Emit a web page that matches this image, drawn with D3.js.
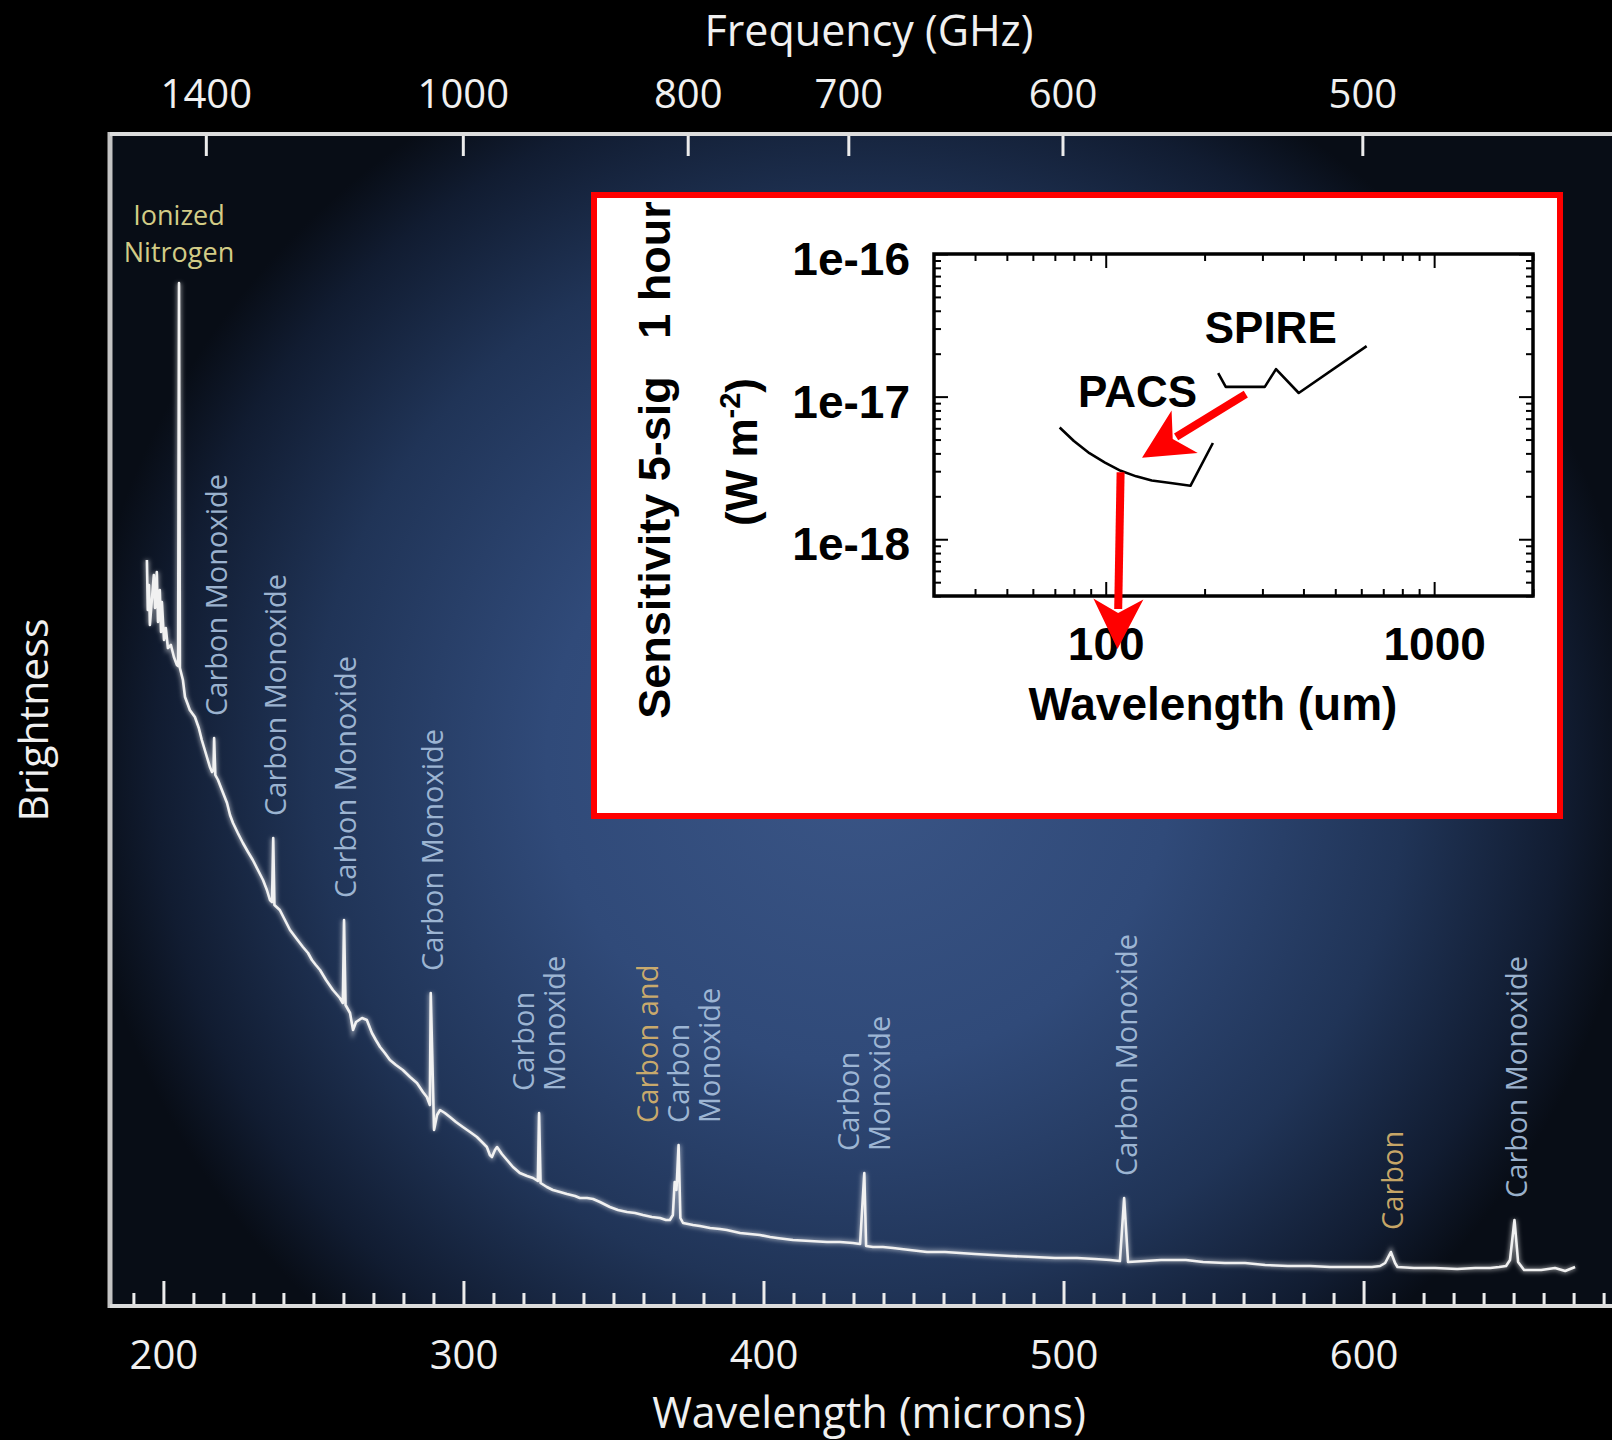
<!DOCTYPE html>
<html>
<head>
<meta charset="utf-8">
<script src="https://cdn.jsdelivr.net/npm/d3@7"></script>
<style>
  html, body { margin: 0; padding: 0; background: #000; }
  svg { display: block; }
</style>
</head>
<body>
<svg id="chart" width="1612" height="1440"></svg>
<script>
// ---- Far-infrared spectrum: wavelength (microns) and brightness (arbitrary units) ----
const wavelength = [
  194.5, 194.8, 195.2, 195.5, 196.2, 196.8, 197.2, 197.8, 198.2, 198.8, 199.2, 199.5, 200.2, 200.8, 201.5,
  202.5, 203.5, 204.5, 204.9, 205.2, 205.5, 206.5, 207.2, 208.2, 208.8, 210.5, 211.8, 212.8, 213.8, 214.5,
  215.5, 216.2, 216.7, 216.9, 217.3, 218.2, 219.5, 221.2, 222.2, 223.2, 224.8, 226.5, 228.2, 229.8, 231.5,
  233.2, 234.5, 235.5, 236.2, 236.6, 237.0, 238.8, 240.5, 242.2, 244.2, 246.5, 248.2, 249.5, 250.8, 252.2,
  254.2, 256.5, 258.8, 259.8, 260.2, 260.7, 262.2, 263.2, 264.2, 266.2, 267.8, 269.5, 270.8, 272.2, 273.8,
  275.5, 277.5, 279.8, 282.2, 284.5, 286.5, 287.8, 288.8, 289.1, 290.2, 291.2, 292.2, 293.8, 295.5, 297.5,
  299.8, 302.2, 304.5, 306.5, 307.8, 308.8, 309.5, 310.5, 311.2, 312.8, 314.5, 316.5, 318.8, 321.2, 323.2,
  324.8, 325.2, 325.7, 327.8, 329.8, 332.2, 334.5, 337.2, 338.8, 341.2, 343.2, 345.5, 348.8, 351.5, 354.5,
  357.2, 359.8, 362.8, 365.5, 367.5, 368.8, 369.8, 370.4, 371.0, 371.7, 372.3, 373.2, 376.5, 378.8, 382.2,
  385.5, 387.8, 392.2, 395.5, 398.8, 402.2, 404.5, 409.8, 415.5, 421.2, 425.5, 429.8, 432.2, 433.6, 434.2,
  436.5, 439.8, 443.2, 448.8, 454.5, 460.5, 465.5, 470.5, 476.2, 482.2, 490.2, 497.2, 504.5, 510.5, 515.5,
  518.8, 520.2, 521.5, 527.2, 532.5, 537.2, 540.8, 546.5, 553.8, 560.5, 567.2, 574.8, 582.2, 588.8, 596.2,
  602.8, 605.5, 607.2, 609.1, 610.5, 611.3, 616.8, 623.8, 631.2, 637.2, 642.2, 645.2, 647.5, 648.8, 650.3,
  651.5, 653.5, 659.2, 663.8, 667.2, 670.5
];
const brightness = [
  74.6, 69.6, 72.1, 68.1, 70.8, 73.1, 69.8, 73.4, 68.4, 71.6, 67.4, 70.4, 66.6, 67.8, 65.8,
  66.1, 64.9, 64.1, 64.0, 102.3, 63.8, 62.6, 60.9, 60.1, 59.6, 58.9, 57.8, 56.6, 55.6, 54.9,
  53.9, 53.4, 53.6, 56.8, 53.1, 52.6, 51.6, 50.3, 49.1, 48.3, 47.3, 46.3, 45.4, 44.6, 43.6,
  42.6, 41.6, 40.6, 40.4, 46.8, 40.1, 39.6, 38.6, 37.6, 36.8, 35.9, 35.3, 34.6, 34.1, 33.6,
  32.6, 31.6, 30.8, 30.3, 38.6, 30.1, 29.3, 27.6, 28.4, 28.8, 28.6, 27.3, 26.6, 25.9, 25.3,
  24.6, 24.1, 23.6, 22.9, 22.3, 21.4, 20.9, 20.1, 31.3, 17.6, 19.1, 19.6, 19.3, 18.9, 18.4,
  17.9, 17.4, 16.9, 16.3, 15.9, 15.1, 14.9, 15.6, 15.9, 15.2, 14.6, 13.9, 13.3, 13.0, 12.8,
  12.5, 19.3, 12.3, 11.9, 11.6, 11.4, 11.2, 11.0, 10.8, 10.8, 10.7, 10.4, 9.9, 9.6, 9.4,
  9.3, 9.1, 8.9, 8.8, 8.6, 8.6, 9.1, 12.4, 11.6, 16.1, 8.8, 8.3, 8.1, 8.0, 7.8,
  7.7, 7.6, 7.3, 7.2, 7.1, 6.9, 6.8, 6.6, 6.5, 6.4, 6.4, 6.3, 6.2, 13.3, 6.0,
  5.9, 5.9, 5.8, 5.6, 5.4, 5.4, 5.3, 5.2, 5.1, 5.0, 4.9, 4.8, 4.8, 4.7, 4.6,
  4.5, 10.8, 4.4, 4.5, 4.6, 4.6, 4.6, 4.4, 4.3, 4.3, 4.1, 4.0, 4.0, 3.9, 3.9,
  3.9, 4.0, 4.3, 5.4, 4.3, 3.9, 3.8, 3.8, 3.7, 3.8, 3.8, 3.9, 4.0, 4.6, 8.6,
  4.4, 3.6, 3.6, 3.8, 3.5, 3.9
];

// ---- Identified emission lines (rest wavelength, microns) ----
const lineWavelengths = [205.2, 216.9, 236.6, 260.2, 289.1, 325.2, 371.7, 433.6, 520.2, 609.1, 650.3];
const lineLabels = [
  ["Ionized", "Nitrogen"],
  ["Carbon Monoxide"],
  ["Carbon Monoxide"],
  ["Carbon Monoxide"],
  ["Carbon Monoxide"],
  ["Carbon", "Monoxide"],
  ["Carbon and", "Carbon", "Monoxide"],
  ["Carbon", "Monoxide"],
  ["Carbon Monoxide"],
  ["Carbon"],
  ["Carbon Monoxide"]
];
const lineLabelTones = [
  ["nitrogen", "nitrogen"],
  ["co"], ["co"], ["co"], ["co"],
  ["co", "co"],
  ["carbon", "co", "co"],
  ["co", "co"],
  ["co"],
  ["carbon"],
  ["co"]
];

// ---- Axis ticks ----
const wavelengthTicks = [200, 300, 400, 500, 600];
const frequencyTicks = [1400, 1000, 800, 700, 600, 500];   // GHz

// ---- Inset: 5-sigma 1-hour line sensitivity (W m^-2) ----
const pacsWavelength   = [72.4, 80.0, 89.2, 99.5, 111.1, 123.8, 138.1, 157.6, 181.1, 212.0];
const pacsSensitivity  = [6.07e-18, 4.88e-18, 4.01e-18, 3.45e-18, 3.02e-18, 2.76e-18, 2.58e-18, 2.48e-18, 2.37e-18, 4.73e-18];
const spireWavelength  = [220, 232, 305, 330, 387, 623];
const spireSensitivity = [1.46e-17, 1.17e-17, 1.17e-17, 1.56e-17, 1.06e-17, 2.26e-17];
const insetXTicks = [100, 1000];
const insetYTicks = [1e-18, 1e-17, 1e-16];
// annotation arrows [wavelength, sensitivity] from -> to
const insetArrows = [
  [[267, 1.04e-17], [129, 3.72e-18]],
  [[111, 2.95e-18], [108.6, 1.7e-19]]
];
const insetNames = ["PACS", "SPIRE"];
const insetNameAt = [[125, 8.45e-18], [318, 2.38e-17]];

const C_LIGHT = 299792.458; // micron * GHz

const svg = d3.select("#chart");
const defs = svg.append("defs");

// Plot-area glow
const grad = defs.append("radialGradient")
  .attr("id", "plotGlow")
  .attr("gradientUnits", "userSpaceOnUse")
  .attr("cx", 860).attr("cy", 760).attr("r", 760)
  .attr("gradientTransform", "translate(860,760) scale(1.03,1) translate(-860,-760)");
[[0, "#3a5586"], [0.4, "#304a79"], [0.7, "#203457"], [0.9, "#111c31"], [1, "#080d16"]]
  .forEach(([o, c]) => grad.append("stop").attr("offset", o).attr("stop-color", c));

const glow = defs.append("filter").attr("id", "soft").attr("x", "-5%").attr("y", "-5%").attr("width", "110%").attr("height", "110%");
glow.append("feGaussianBlur").attr("stdDeviation", 2.2);

// ---- Main scales ----
const plot = { left: 110, right: 1612, top: 134, bottom: 1306 };
const x = d3.scaleLinear().domain([182.2, 682.8]).range([plot.left, plot.right]);
const y = d3.scaleLinear().domain([0, 117.2]).range([plot.bottom, plot.top]);

svg.append("rect").attr("width", 1612).attr("height", 1440).attr("fill", "#000");
svg.append("rect")
  .attr("x", plot.left).attr("y", plot.top)
  .attr("width", plot.right - plot.left).attr("height", plot.bottom - plot.top)
  .attr("fill", "url(#plotGlow)");

const SANS = "'Open Sans', 'DejaVu Sans', sans-serif";
const toneColor = { co: "#a9c1de", carbon: "#d9b46c", nitrogen: "#d3cc86" };

// ---- Spectrum ----
const spectrum = wavelength.map((w, i) => [w, brightness[i]]);
const line = d3.line().x(d => x(d[0])).y(d => y(d[1]));
svg.append("path").datum(spectrum)
  .attr("d", line).attr("fill", "none")
  .attr("stroke", "#ffffff").attr("stroke-opacity", 0.45)
  .attr("stroke-width", 5).attr("filter", "url(#soft)");
svg.append("path").datum(spectrum)
  .attr("d", line).attr("fill", "none")
  .attr("stroke", "#f1f1f1").attr("stroke-width", 2.6)
  .attr("stroke-linejoin", "round");

// ---- Line identifications ----
function peakOf(w) {
  let best = 0;
  spectrum.forEach(d => { if (Math.abs(d[0] - w) < 0.8) best = Math.max(best, d[1]); });
  return best;
}
const labelG = svg.append("g").attr("font-family", SANS);
lineWavelengths.forEach((w, k) => {
  const lines = lineLabels[k];
  const tones = lineLabelTones[k];
  const px = x(w);
  const top = y(peakOf(w));
  if (tones[0] === "nitrogen") {
    lines.forEach((t, i) => {
      labelG.append("text")
        .attr("x", px).attr("y", top - 21 - (lines.length - 1 - i) * 37)
        .attr("text-anchor", "middle").attr("font-size", 27)
        .attr("fill", toneColor[tones[i]]).text(t);
    });
  } else {
    const n = lines.length;
    lines.forEach((t, i) => {
      const cx = px + (n === 1 ? 2 : (i - (n - 1) / 2) * 31);
      labelG.append("text")
        .attr("transform", `translate(${cx},${top - 22}) rotate(-90)`)
        .attr("dy", "0.36em").attr("text-anchor", "start")
        .attr("font-size", 29)
        .attr("fill", toneColor[tones[i]]).attr("fill-opacity", 0.92)
        .text(t);
    });
  }
});

// ---- Axes ----
function styleAxis(g, size) {
  g.select(".domain").remove();
  g.selectAll(".tick line").attr("stroke", "#ececec").attr("stroke-width", 3);
  g.selectAll(".tick text").attr("fill", "#f0f0f0").attr("font-family", SANS).attr("font-size", size);
}
const minorWavelengthTicks = d3.range(190, 690, 10).filter(v => !wavelengthTicks.includes(v));
svg.append("g").attr("transform", `translate(0,${plot.bottom})`)
  .call(d3.axisBottom(x).tickValues(minorWavelengthTicks).tickSize(-13).tickFormat(""))
  .call(g => styleAxis(g, 40));
svg.append("g").attr("transform", `translate(0,${plot.bottom})`)
  .call(d3.axisBottom(x).tickValues(wavelengthTicks).tickSize(-25).tickPadding(35).tickFormat(d3.format("d")))
  .call(g => styleAxis(g, 40));
svg.append("g").attr("transform", `translate(0,${plot.top})`)
  .call(d3.axisTop(x).tickValues(frequencyTicks.map(f => C_LIGHT / f)).tickSize(-22).tickPadding(26)
    .tickFormat((d, i) => frequencyTicks[i]))
  .call(g => styleAxis(g, 40));

// frame
const frame = svg.append("g").attr("stroke", "#dcdcdc").attr("stroke-width", 4).attr("fill", "none");
frame.append("line").attr("x1", plot.left).attr("x2", plot.left).attr("y1", plot.top - 2).attr("y2", plot.bottom + 2).attr("stroke", "#c4c4c4").attr("stroke-width", 5);
frame.append("line").attr("x1", plot.left).attr("x2", plot.right).attr("y1", plot.top).attr("y2", plot.top);
frame.append("line").attr("x1", plot.left).attr("x2", plot.right).attr("y1", plot.bottom).attr("y2", plot.bottom);

// titles
svg.append("text").attr("x", 869).attr("y", 46).attr("text-anchor", "middle")
  .attr("font-family", SANS).attr("font-size", 43).attr("fill", "#f0f0f0").text("Frequency (GHz)");
svg.append("text").attr("x", 869).attr("y", 1428).attr("text-anchor", "middle")
  .attr("font-family", SANS).attr("font-size", 43).attr("fill", "#f0f0f0").text("Wavelength (microns)");
svg.append("text").attr("transform", "translate(48,720) rotate(-90)").attr("text-anchor", "middle")
  .attr("font-family", SANS).attr("font-size", 41).attr("fill", "#f0f0f0").text("Brightness");

// ---- Inset: sensitivity panel ----
const ARIAL = "'Liberation Sans', Arial, sans-serif";
svg.append("rect").attr("x", 594).attr("y", 195).attr("width", 966).attr("height", 621)
  .attr("fill", "#ffffff").attr("stroke", "#ff0000").attr("stroke-width", 6);

const inset = { left: 934, right: 1533, top: 254, bottom: 596 };
const ix = d3.scaleLog().domain([30, 2000]).range([inset.left, inset.right]);
const iy = d3.scaleLog().domain([4e-19, 1e-16]).range([inset.bottom, inset.top]);

const minorX = [40, 50, 60, 70, 80, 90, 200, 300, 400, 500, 600, 700, 800, 900, 2000];
const minorY = [];
[-19, -18, -17].forEach(e => d3.range(2, 10).forEach(m => {
  const v = m * Math.pow(10, e);
  if (v >= 4e-19 && v < 1e-16) minorY.push(v);
}));

function styleInset(g) {
  g.select(".domain").remove();
  g.selectAll(".tick line").attr("stroke", "#000").attr("stroke-width", 2);
  g.selectAll(".tick text").attr("fill", "#000").attr("font-family", ARIAL)
    .attr("font-weight", "bold").attr("font-size", 46);
}
const ig = svg.append("g");
// bottom & top
ig.append("g").attr("transform", `translate(0,${inset.bottom})`)
  .call(d3.axisBottom(ix).tickValues(minorX).tickSize(-7).tickFormat("")).call(styleInset);
ig.append("g").attr("transform", `translate(0,${inset.bottom})`)
  .call(d3.axisBottom(ix).tickValues(insetXTicks).tickSize(-14).tickPadding(31).tickFormat(d3.format("d"))).call(styleInset);
ig.append("g").attr("transform", `translate(0,${inset.top})`)
  .call(d3.axisTop(ix).tickValues(minorX).tickSize(-7).tickFormat("")).call(styleInset);
ig.append("g").attr("transform", `translate(0,${inset.top})`)
  .call(d3.axisTop(ix).tickValues(insetXTicks).tickSize(-14).tickFormat("")).call(styleInset);
// left & right
ig.append("g").attr("transform", `translate(${inset.left},0)`)
  .call(d3.axisLeft(iy).tickValues(minorY).tickSize(-7).tickFormat("")).call(styleInset);
ig.append("g").attr("transform", `translate(${inset.left},0)`)
  .call(d3.axisLeft(iy).tickValues(insetYTicks).tickSize(-14).tickPadding(24)
    .tickFormat(d => "1e" + Math.round(Math.log10(d))))
  .call(styleInset)
  .call(g => g.selectAll(".tick text").attr("dy", "0.45em"));
ig.append("g").attr("transform", `translate(${inset.right},0)`)
  .call(d3.axisRight(iy).tickValues(minorY).tickSize(-7).tickFormat("")).call(styleInset);
ig.append("g").attr("transform", `translate(${inset.right},0)`)
  .call(d3.axisRight(iy).tickValues(insetYTicks).tickSize(-14).tickFormat("")).call(styleInset);

ig.append("rect").attr("x", inset.left).attr("y", inset.top)
  .attr("width", inset.right - inset.left).attr("height", inset.bottom - inset.top)
  .attr("fill", "none").attr("stroke", "#000").attr("stroke-width", 3.5);

const iline = d3.line().x(d => ix(d[0])).y(d => iy(d[1]));
ig.append("path").datum(pacsWavelength.map((w, i) => [w, pacsSensitivity[i]]))
  .attr("d", iline).attr("fill", "none").attr("stroke", "#000").attr("stroke-width", 2.6).attr("stroke-linejoin", "round");
ig.append("path").datum(spireWavelength.map((w, i) => [w, spireSensitivity[i]]))
  .attr("d", iline).attr("fill", "none").attr("stroke", "#000").attr("stroke-width", 2.6).attr("stroke-linejoin", "round");

insetNames.forEach((name, i) => {
  ig.append("text").attr("x", ix(insetNameAt[i][0])).attr("y", iy(insetNameAt[i][1]))
    .attr("text-anchor", "middle").attr("font-family", ARIAL).attr("font-weight", "bold")
    .attr("font-size", 44).attr("fill", "#000").text(name);
});

// axis titles of the inset
ig.append("text").attr("x", 1213).attr("y", 720).attr("text-anchor", "middle")
  .attr("font-family", ARIAL).attr("font-weight", "bold").attr("font-size", 46).attr("fill", "#000")
  .text("Wavelength (um)");
ig.append("text").attr("transform", "translate(670,460) rotate(-90)").attr("text-anchor", "middle")
  .attr("font-family", ARIAL).attr("font-weight", "bold").attr("font-size", 45).attr("fill", "#000")
  .style("white-space", "pre").text("Sensitivity 5-sig   1 hour");
const unit = ig.append("text").attr("transform", "translate(757,452) rotate(-90)").attr("text-anchor", "middle")
  .attr("font-family", ARIAL).attr("font-weight", "bold").attr("font-size", 44).attr("fill", "#000");
unit.append("tspan").text("(W m");
unit.append("tspan").attr("font-size", 29).attr("dy", -17).text("-2");
unit.append("tspan").attr("dy", 17).text(")");

// red annotation arrows
insetArrows.forEach(([from, to]) => {
  const x0 = ix(from[0]), y0 = iy(from[1]), x1 = ix(to[0]), y1 = iy(to[1]);
  const len = Math.hypot(x1 - x0, y1 - y0), ux = (x1 - x0) / len, uy = (y1 - y0) / len;
  const head = 50, half = 25, notch = 36;
  ig.append("line").attr("x1", x0).attr("y1", y0)
    .attr("x2", x1 - ux * (notch + 4)).attr("y2", y1 - uy * (notch + 4))
    .attr("stroke", "#ff0000").attr("stroke-width", 8);
  const bx = x1 - ux * head, by = y1 - uy * head;
  const pts = [
    [x1, y1],
    [bx - uy * half, by + ux * half],
    [x1 - ux * notch, y1 - uy * notch],
    [bx + uy * half, by - ux * half]
  ];
  ig.append("polygon").attr("points", pts.map(p => p.join(",")).join(" ")).attr("fill", "#ff0000");
});
</script>
</body>
</html>
